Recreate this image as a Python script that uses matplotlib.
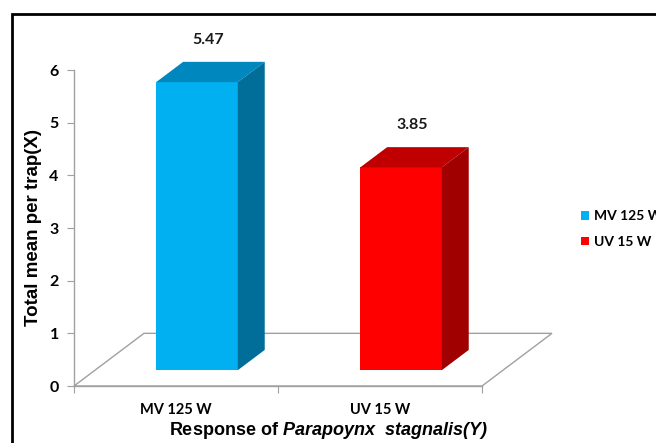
import matplotlib.pyplot as plt
from matplotlib.patches import Polygon, Rectangle, Patch

# light sources and mean catch per trap
categories = ['MV 125 W', 'UV 15 W']
means = [5.47, 3.85]
front_colors = ['#00B0F0', '#FF0000']
top_colors = ['#0088BE', '#C00000']
side_colors = ['#006E98', '#A00000']

# pseudo-3D geometry (x in category units, y in value units)
DX = 0.343      # horizontal shift of the floor's full depth
DY = 1.0        # vertical shift of the floor's full depth
BAR_Z0 = 0.30   # depth where the bar front sits
BAR_DZ = 0.385  # bar depth
BAR_W = 0.40

plt.rcParams['mathtext.fontset'] = 'custom'
plt.rcParams['mathtext.it'] = 'Liberation Sans:italic:bold'
plt.rcParams['mathtext.rm'] = 'Liberation Sans:italic:bold'
plt.rcParams['mathtext.bf'] = 'Liberation Sans:italic:bold'

fig = plt.figure(figsize=(6.56, 4.43), dpi=100)
ax = fig.add_axes([74 / 656, 57 / 443, 408 / 656, 316 / 443])
ax.set_xlim(0, len(categories))
ax.set_ylim(0, 6)

grey = '#A0A0A0'
# floor of the 3D plot
floor = Polygon([(0, 0), (len(categories), 0), (len(categories) + DX, DY), (DX, DY)],
                closed=True, facecolor='white', edgecolor=grey, lw=1.0, clip_on=False, zorder=1)
ax.add_patch(floor)

for i, (cat, v) in enumerate(zip(categories, means)):
    c = i + 0.5
    x0 = c - BAR_W / 2 + BAR_Z0 * DX
    x1 = x0 + BAR_W
    y0 = BAR_Z0 * DY
    y1 = y0 + v
    ox, oy = BAR_DZ * DX, BAR_DZ * DY
    ax.add_patch(Polygon([(x0, y0), (x1, y0), (x1, y1), (x0, y1)], closed=True,
                         facecolor=front_colors[i], edgecolor='none', clip_on=False, zorder=3))
    ax.add_patch(Polygon([(x0, y1), (x1, y1), (x1 + ox, y1 + oy), (x0 + ox, y1 + oy)], closed=True,
                         facecolor=top_colors[i], edgecolor='none', clip_on=False, zorder=3))
    ax.add_patch(Polygon([(x1, y0), (x1 + ox, y0 + oy), (x1 + ox, y1 + oy), (x1, y1)], closed=True,
                         facecolor=side_colors[i], edgecolor='none', clip_on=False, zorder=3))
    ax.text(c + 0.46 * DX, y1 + oy + 0.42, f'{v:.2f}', ha='center', va='center',
            fontsize=11.5, fontweight='bold', family='Lato', color='#1a1a1a', clip_on=False)

for s in ['top', 'right']:
    ax.spines[s].set_visible(False)
for s in ['left', 'bottom']:
    ax.spines[s].set_color(grey)
    ax.spines[s].set_linewidth(1.0)

ax.set_yticks(range(7))
ax.set_yticklabels([str(t) for t in range(7)], fontsize=11.5, fontweight='bold', family='Lato')
ax.set_xticks(range(len(categories) + 1))
ax.set_xticklabels([])
ax.set_xticks([i + 0.5 for i in range(len(categories))], minor=True)
ax.set_xticklabels(categories, minor=True, fontsize=10.5, fontweight='bold', family='Lato')
ax.tick_params(axis='y', length=5, color=grey, pad=6)
ax.tick_params(axis='x', which='major', length=5, color=grey)
ax.tick_params(axis='x', which='minor', length=0, pad=12)

ax.set_ylabel('Total mean per trap(X)', fontsize=13.5, fontweight='bold',
              family='Liberation Sans', labelpad=5)
ax.set_xlabel(r'Response of $Parapoynx\ \ stagnalis(Y)$', fontsize=13,
              fontweight='bold', family='Liberation Sans')
ax.xaxis.set_label_coords(0.625, -0.108)

handles = [Patch(facecolor=col, edgecolor='none', label=cat) for cat, col in zip(categories, front_colors)]
fig.legend(handles=handles, loc='center left', bbox_to_anchor=(568 / 656, 1 - 229 / 443),
           frameon=False, handlelength=0.6, handleheight=0.6, handletextpad=0.35,
           labelspacing=1.0, prop={'family': 'Lato', 'weight': 'bold', 'size': 10})

# outer chart border
fig.patches.append(Rectangle((12 / 656, -0.2), 1.2, 1 - 14 / 443 + 0.2, transform=fig.transFigure,
                             fill=False, edgecolor='black', lw=2.0))

fig.savefig('out.png', dpi=100)
